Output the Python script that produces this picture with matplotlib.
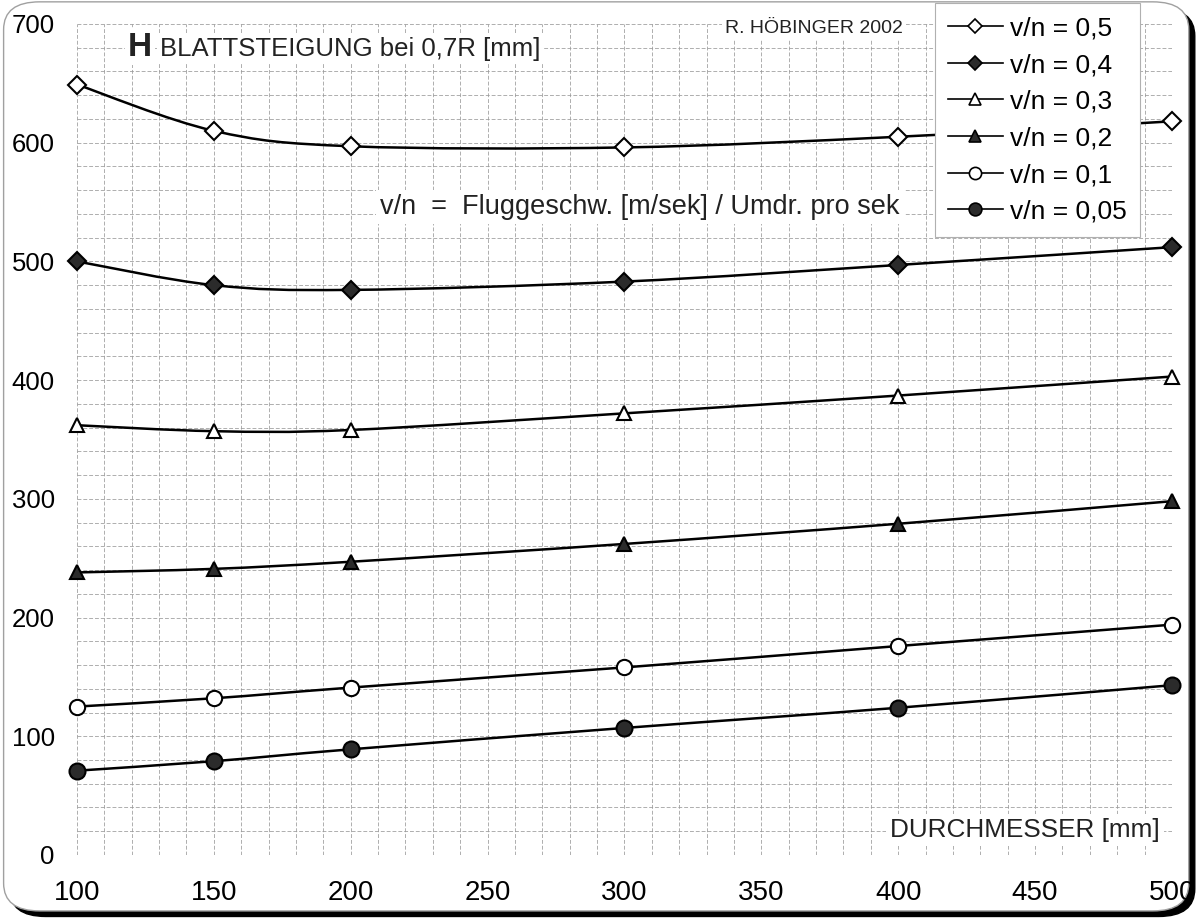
import numpy as np
import matplotlib
matplotlib.use("Agg")
import matplotlib.pyplot as plt
from matplotlib.path import Path
from matplotlib.patches import PathPatch, FancyBboxPatch
from matplotlib.lines import Line2D

plt.rcParams["font.family"] = ["Liberation Sans", "DejaVu Sans"]

# data
durchmesser = [100, 150, 200, 300, 400, 500]
vn_05 = [649, 610, 597, 596, 605, 618]
vn_04 = [500, 480, 476, 483, 497, 512]
vn_03 = [362, 357, 358, 372, 387, 403]
vn_02 = [238, 241, 247, 262, 279, 298]
vn_01 = [125, 132, 141, 158, 176, 194]
vn_005 = [71, 79, 89, 107, 124, 143]
labels = ["v/n = 0,5", "v/n = 0,4", "v/n = 0,3", "v/n = 0,2", "v/n = 0,1", "v/n = 0,05"]

DARK = "#2b2b2b"
styles = [("D", "white"), ("D", DARK), ("^", "white"),
          ("^", DARK), ("o", "white"), ("o", DARK)]
msizes = [9, 9, 10, 10, 11, 11.5]


def smooth_path(x, y):
    # Excel-like smoothed line: cubic bezier, control points from neighbours / 6
    pts = np.column_stack([x, y]).astype(float)
    n = len(pts)
    verts = [pts[0]]
    codes = [Path.MOVETO]
    for i in range(n - 1):
        p0 = pts[i - 1] if i > 0 else pts[i]
        p1, p2 = pts[i], pts[i + 1]
        p3 = pts[i + 2] if i + 2 < n else pts[i + 1]
        c1 = p1 + (p2 - p0) / 6.0
        c2 = p2 - (p3 - p1) / 6.0
        verts += [c1, c2, p2]
        codes += [Path.CURVE4] * 3
    return Path(verts, codes)


fig = plt.figure(figsize=(12.02, 9.22), dpi=100)

# rounded frame with dark shadow bottom/right
shadow = FancyBboxPatch((0.008, 0.006), 0.986, 0.985,
                        boxstyle="round,pad=0,rounding_size=0.03",
                        transform=fig.transFigure, facecolor="black",
                        edgecolor="black", lw=1, zorder=-3)
frame = FancyBboxPatch((0.003, 0.012), 0.986, 0.986,
                       boxstyle="round,pad=0,rounding_size=0.03",
                       transform=fig.transFigure, facecolor="white",
                       edgecolor="#a0a0a0", lw=1, zorder=-2)
fig.patches.extend([shadow, frame])

ax = fig.add_axes([0.064, 0.0727, 0.911, 0.9013])
ax.set_facecolor("none")

series = [vn_05, vn_04, vn_03, vn_02, vn_01, vn_005]
handles = []
for vals, (mk, fc), ms, lab in zip(series, styles, msizes, labels):
    ax.add_patch(PathPatch(smooth_path(durchmesser, vals), fill=False,
                           edgecolor="black", lw=1.8, zorder=3))
    ax.plot(durchmesser, vals, ls="none", marker=mk, ms=ms, mfc=fc,
            mec="black", mew=1.5, zorder=4, clip_on=False)
    handles.append(Line2D([], [], color="black", lw=1.2, marker=mk,
                          ms=ms * 0.8, mfc=fc, mec="black", mew=1.2,
                          label=lab))

ax.set_xlim(100, 500)
ax.set_ylim(0, 700)
ax.set_xticks(np.arange(100, 501, 50))
ax.set_yticks(np.arange(0, 701, 100))
ax.set_xticks(np.arange(100, 501, 10), minor=True)
ax.set_yticks(np.arange(0, 701, 20), minor=True)
ax.grid(which="both", color="#9a9a9a", ls=(0, (4, 2)), lw=0.7, alpha=0.8)
for s in ax.spines.values():
    s.set_visible(False)
ax.tick_params(which="both", length=0)
ax.tick_params(axis="y", labelsize=18.5, pad=16)
ax.tick_params(axis="x", labelsize=20, pad=18)

ax.text(0.0466, 0.972, "H", transform=ax.transAxes, fontsize=24,
        fontweight="bold", color="#222222", va="center", ha="left",
        bbox=dict(facecolor="white", edgecolor="none", pad=2), zorder=5)
ax.text(0.0758, 0.970, "BLATTSTEIGUNG bei 0,7R [mm]", transform=ax.transAxes,
        fontsize=18.5, color="#222222", va="center", ha="left",
        bbox=dict(facecolor="white", edgecolor="none", pad=2), zorder=5)
ax.text(0.592, 0.995, "R. HÖBINGER 2002", transform=ax.transAxes,
        fontsize=14, color="#222222", va="center", ha="left",
        bbox=dict(facecolor="white", edgecolor="none", pad=2), zorder=5)
ax.text(0.277, 0.78, "v/n  =  Fluggeschw. [m/sek] / Umdr. pro sek",
        transform=ax.transAxes, fontsize=19.5, color="#222222",
        va="center", ha="left",
        bbox=dict(facecolor="white", edgecolor="none", pad=3), zorder=5)
ax.text(0.989, 0.03, "DURCHMESSER [mm]", transform=ax.transAxes,
        fontsize=18.8, color="#222222", va="center", ha="right",
        bbox=dict(facecolor="white", edgecolor="none", pad=3), zorder=5)

leg = ax.legend(handles=handles, loc="upper right",
                bbox_to_anchor=(0.971, 1.025), borderaxespad=0, fontsize=19,
                handlelength=2.1, handletextpad=0.27, labelspacing=0.48,
                borderpad=0.5, frameon=True, fancybox=False,
                framealpha=1, edgecolor="#b0b0b0")
leg.get_frame().set_linewidth(0.8)
leg.set_zorder(6)

fig.savefig("out.png", dpi=100)
